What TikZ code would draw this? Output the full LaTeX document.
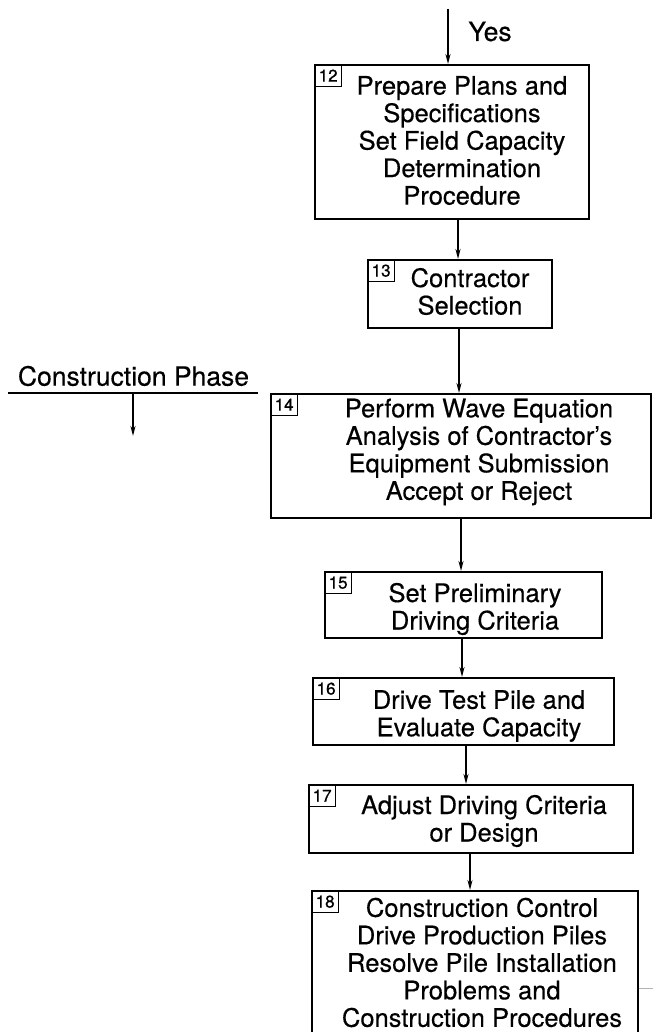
\documentclass[tikz,border=0pt]{standalone}
\usepackage{fontspec}
\setmainfont{TeX Gyre Heros}
\newfontfamily\heavy{TeX Gyre Heros}[FakeBold=0.35]
\newfontfamily\numfont{TeX Gyre Heros}[FakeBold=0.8]
\usetikzlibrary{arrows.meta}
\tikzset{
  boxshape/.style={draw, line width=1.8pt, rectangle, inner sep=0pt, anchor=north west},
  numbox/.style={draw, line width=1.3pt, rectangle, inner sep=0pt, anchor=north west,
     minimum width=27pt, minimum height=22pt, font=\numfont\fontsize{17}{17}\selectfont},
  bodytext/.style={align=center, inner sep=0pt, font=\heavy\fontsize{25.5}{27.5}\selectfont},
  bigtext/.style={inner sep=0pt, font=\heavy\fontsize{26.5}{28}\selectfont},
  arr/.style={line width=1.6pt, -{Stealth[length=10pt,width=5pt]}},
  plainline/.style={line width=1.6pt}
}
\begin{document}
\begin{tikzpicture}[x=1pt,y=-1pt]
\useasboundingbox[fill=white] (0,0) rectangle (653,1032);

% boxes
\node[boxshape, minimum width=274pt, minimum height=154pt] (b12) at (314,64) {};
\node[boxshape, minimum width=184pt, minimum height=68pt]  (b13) at (367,259) {};
\node[boxshape, minimum width=380pt, minimum height=124pt] (b14) at (270,393) {};
\node[boxshape, minimum width=277pt, minimum height=66pt]  (b15) at (324,571) {};
\node[boxshape, minimum width=301pt, minimum height=67pt]  (b16) at (312,677) {};
\node[boxshape, minimum width=324pt, minimum height=68pt]  (b17) at (308,784) {};
\node[boxshape, minimum width=326pt, minimum height=155pt] (b18) at (311,890) {};

% number labels
\node[numbox] (n12) at (b12.north west) {12};
\node[numbox] (n13) at (b13.north west) {13};
\node[numbox] (n14) at (b14.north west) {14};
\node[numbox] (n15) at (b15.north west) {15};
\node[numbox] (n16) at (b16.north west) {16};
\node[numbox] (n17) at (b17.north west) {17};
\node[numbox] (n18) at (b18.north west) {18};

% texts
\node[bodytext] (t12) at (462,140.5) {Prepare Plans and\\Specifications\\Set Field Capacity\\Determination\\Procedure};
\node[bodytext] (t13) at (470,291.5) {Contractor\\Selection};
\node[bodytext] (t14) at (479,452) {Perform Wave Equation\\Analysis of Contractor’s\\Equipment Submission\\Accept or Reject};
\node[bodytext] (t15) at (475,609) {Set Preliminary\\Driving Criteria};
\node[bodytext] (t16) at (479,716) {Drive Test Pile and\\Evaluate Capacity};
\node[bodytext] (t17) at (484,821) {Adjust Driving Criteria\\or Design};
\node[bodytext] (t18) at (482,962.5) {Construction Control\\Drive Production Piles\\Resolve Pile Installation\\Problems and\\Construction Procedures};

\node[bigtext] (yes) at (490,31.5) {Yes};
\node[bigtext] (cp) at (133.5,376) {Construction Phase};

% connectors
\coordinate (top) at (448,9);
\draw[arr] (top) -- (top |- b12.north);
\coordinate (x1213) at (458,0);
\draw[arr] (b12.south -| x1213) -- (b13.north -| x1213);
\coordinate (x1314) at (459,0);
\draw[arr] (b13.south -| x1314) -- (b14.north -| x1314);
\coordinate (x1415) at (461,0);
\draw[arr] (b14.south -| x1415) -- (b15.north -| x1415);
\coordinate (x1516) at (462,0);
\draw[arr] (b15.south -| x1516) -- (b16.north -| x1516);
\coordinate (x1617) at (466,0);
\draw[arr] (b16.south -| x1617) -- (b17.north -| x1617);
\coordinate (x1718) at (470,0);
\draw[arr] (b17.south -| x1718) -- (b18.north -| x1718);

% construction phase
\coordinate (cpl) at (8,393);
\coordinate (cpr) at (258,393);
\coordinate (cpa) at (133,393);
\coordinate (cpb) at (133,436);
\draw[plainline] (cpl) -- (cpr);
\draw[arr] (cpa) -- (cpb);

% faint line at right
\coordinate (gl) at (b18.east |- 0,988);
\coordinate (gr) at (653,988);
\draw[gray!60, line width=0.8pt] (gl) -- (gr);
\end{tikzpicture}
\end{document}
